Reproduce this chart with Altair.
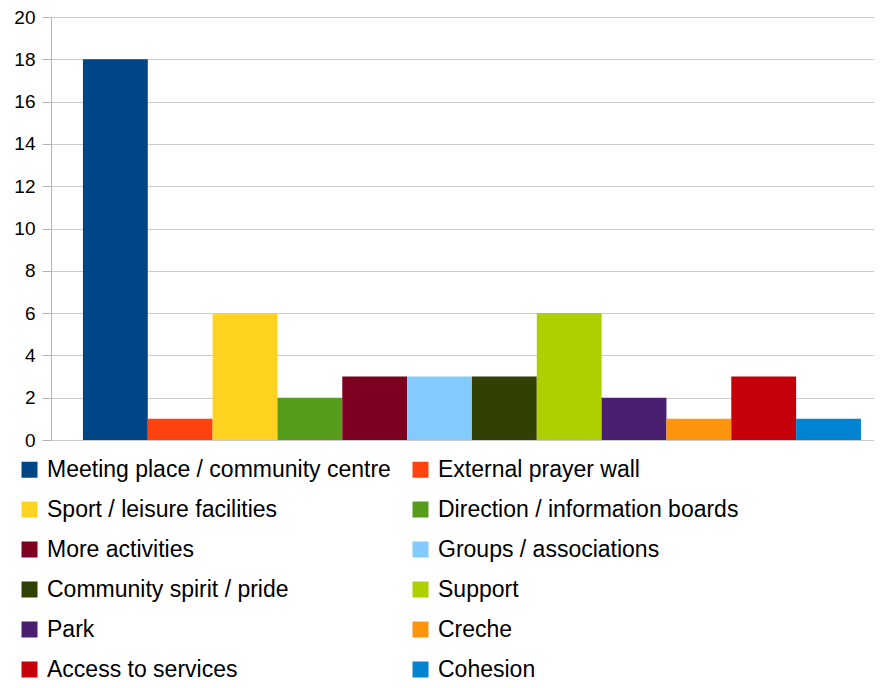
import altair as alt
import pandas as pd

categories = [
    "Meeting place / community centre",
    "External prayer wall",
    "Sport / leisure facilities",
    "Direction / information boards",
    "More activities",
    "Groups / associations",
    "Community spirit / pride",
    "Support",
    "Park",
    "Creche",
    "Access to services",
    "Cohesion",
]
values = [18, 1, 6, 2, 3, 3, 3, 6, 2, 1, 3, 1]
colors = [
    "#004586", "#ff420e", "#ffd320", "#579d1c", "#7e0021", "#83caff",
    "#314004", "#aecf00", "#4b1f6f", "#ff950e", "#c5000b", "#0084d1",
]
y_ticks = list(range(0, 21, 2))

df = pd.DataFrame({"category": categories, "value": values})

# legend lays entries out column by column; reorder so it reads row by row
legend_order = categories[0::2] + categories[1::2]
legend_colors = [colors[categories.index(c)] for c in legend_order]

chart = alt.Chart(df).mark_bar().encode(
    x=alt.X(
        "category:N",
        sort=categories,
        axis=None,
        scale=alt.Scale(paddingInner=0, paddingOuter=0.347, align=0.71),
    ),
    y=alt.Y(
        "value:Q",
        scale=alt.Scale(domain=[0, 20], nice=False),
        axis=alt.Axis(
            values=y_ticks,
            title=None,
            grid=True,
            gridColor="#cccccc",
            gridWidth=1,
            domainColor="#b3b3b3",
            tickColor="#b3b3b3",
            tickSize=9,
            labelFontSize=19,
            labelFont="Liberation Sans",
            labelColor="#000000",
            labelPadding=7,
        ),
    ),
    color=alt.Color(
        "category:N",
        scale=alt.Scale(domain=legend_order, range=legend_colors),
        legend=alt.Legend(
            title=None,
            orient="none",
            legendX=-33,
            legendY=441,
            columns=2,
            symbolType="square",
            symbolSize=256,
            symbolStrokeWidth=0,
            labelFont="Liberation Sans",
            labelFontSize=23,
            labelColor="#000000",
            labelOffset=6,
            labelLimit=500,
            rowPadding=16,
            columnPadding=18,
        ),
    ),
).properties(
    width=823,
    height=423,
    padding={"left": 43, "top": 9, "right": 0, "bottom": 240},
    autosize="none",
).configure_view(stroke=None)

chart.save("out.html", embed_options={"renderer": "svg", "actions": False})
